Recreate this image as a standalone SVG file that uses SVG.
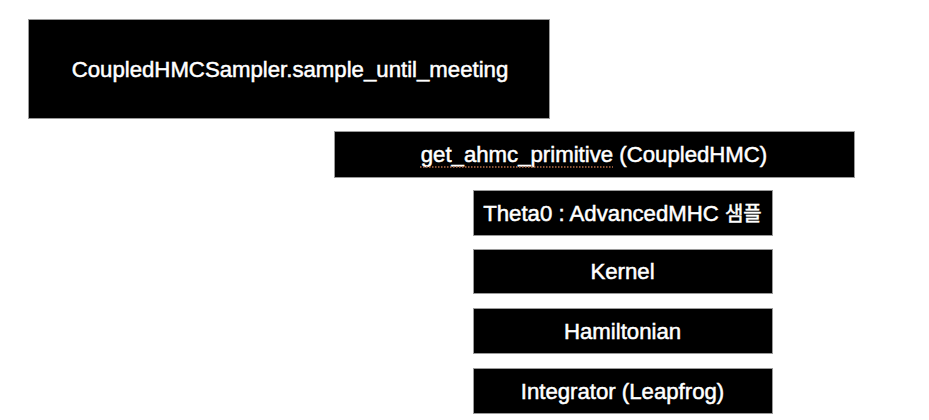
<svg xmlns="http://www.w3.org/2000/svg" width="929" height="420" viewBox="0 0 929 420">
  <style>
    .box { fill: #000; stroke: #9a9a9a; stroke-width: 1; }
    .lbl { fill: #fff; stroke: #fff; stroke-width: 0.5; font-family: "Liberation Sans", Arial, "Noto Sans CJK KR", sans-serif; font-size: 22.2px; text-anchor: middle; }
    .kr { font-size: 20px; }
    .squiggle { fill: none; stroke: #b8704a; stroke-width: 1.3; stroke-dasharray: 1.5 1.5; }
  </style>
  <rect width="929" height="420" fill="#fff"/>
  <g id="node-sample-until-meeting">
    <rect class="box" x="28.5" y="19.5" width="521" height="99"/>
    <text class="lbl" x="290" y="77">CoupledHMCSampler.sample_until_meeting</text>
  </g>
  <g id="node-get-ahmc-primitive">
    <rect class="box" x="334.5" y="131.5" width="520" height="46"/>
    <text class="lbl" x="594" y="162">get_ahmc_primitive (CoupledHMC)</text>
    <line class="squiggle" x1="420" y1="167" x2="613" y2="167"/>
  </g>
  <g id="node-theta0">
    <rect class="box" x="473.5" y="190.5" width="299" height="45"/>
    <text class="lbl" x="622.5" y="220.5">Theta0 : AdvancedMHC <tspan class="kr">샘플</tspan></text>
  </g>
  <g id="node-kernel">
    <rect class="box" x="473.5" y="249.5" width="299" height="44"/>
    <text class="lbl" x="622.5" y="279">Kernel</text>
  </g>
  <g id="node-hamiltonian">
    <rect class="box" x="473.5" y="308.5" width="299" height="45"/>
    <text class="lbl" x="622.5" y="338.5">Hamiltonian</text>
  </g>
  <g id="node-integrator">
    <rect class="box" x="473.5" y="368.5" width="299" height="45"/>
    <text class="lbl" x="622.5" y="398.5">Integrator (Leapfrog)</text>
  </g>
</svg>
